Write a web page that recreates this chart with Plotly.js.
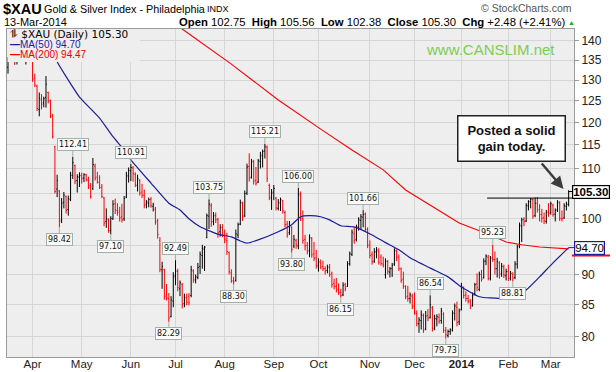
<!DOCTYPE html>
<html><head><meta charset="utf-8">
<script src="https://cdn.plot.ly/plotly-3.0.1.min.js"></script>
<style>html,body{margin:0;padding:0;background:#fff;}#chart{width:616px;height:372px;}</style>
</head><body><div id="chart"></div>
<script>
const holidays = ['2013-03-29','2013-05-27','2013-07-04','2013-09-02','2013-11-28','2013-12-25','2014-01-01','2014-01-20','2014-02-17'];
function tradingDays(a, b) {
  const out = []; let d = new Date(a + 'T00:00:00Z'); const e = new Date(b + 'T00:00:00Z');
  while (d <= e) { const wd = d.getUTCDay(); const s = d.toISOString().slice(0, 10);
    if (wd !== 0 && wd !== 6 && holidays.indexOf(s) < 0) out.push(s);
    d = new Date(d.getTime() + 86400000); }
  return out;
}
const dates = tradingDays('2013-03-14', '2014-03-13');

const open = [
133.2,135.1,136.2,137.3,135.6,136.5,135.5,136.8,135.6,137.0,136.0,
135.0,130.5,128.5,123.0,125.2,124.5,125.8,127.0,125.0,121.4,114.6,105.8,105.4,99.8,103.2,104.3,101.8,103.7,108.5,110.6,107.5,108.2,
108.6,108.0,108.7,107.6,106.5,105.9,110.5,108.2,107.1,106.2,104.0,99.5,99.8,97.8,100.0,102.9,101.6,101.5,100.4,100.0,104.2,108.4,
109.5,110.1,108.8,106.5,107.5,105.2,104.5,102.8,103.0,103.8,102.4,101.8,99.6,96.0,90.8,90.8,86.6,86.0,83.1,85.6,
89.8,90.5,87.6,88.3,85.2,86.1,86.4,86.5,90.6,89.2,89.5,91.4,93.3,94.4,96.5,100.5,102.5,99.5,100.6,99.9,97.6,98.4,
97.0,96.0,93.8,90.3,88.9,89.0,97.0,99.0,103.0,100.6,105.0,110.4,108.2,111.3,107.6,107.2,111.5,112.6,113.7,114.5,106.5,104.0,
105.2,104.0,102.0,103.0,103.5,101.2,99.0,97.4,98.4,95.0,96.0,95.0,104.6,100.0,96.2,95.1,94.2,96.3,93.6,92.9,
91.5,92.0,91.4,91.0,90.7,91.2,90.2,88.5,88.0,87.5,87.0,86.6,88.3,88.0,91.9,93.5,97.2,96.2,98.4,99.7,100.3,100.9,98.0,
95.2,93.5,92.3,93.9,94.0,93.0,91.8,90.0,92.2,90.4,91.0,91.8,94.0,93.0,91.0,89.2,88.0,86.4,86.0,86.4,
84.7,83.6,82.0,82.5,83.3,81.2,83.3,83.0,84.5,81.3,82.7,83.0,82.5,83.5,81.0,80.2,80.8,81.0,83.6,84.6,82.3,
84.2,87.8,86.6,86.0,85.6,84.9,86.8,88.4,87.5,90.0,89.5,92.3,93.0,89.4,93.0,92.6,91.0,92.0,90.2,91.3,89.8,
90.5,89.4,90.0,89.5,91.8,95.0,98.6,99.9,99.6,102.5,103.3,103.7,100.6,103.0,101.7,100.8,100.2,99.5,101.3,
101.2,102.6,100.9,101.7,103.0,100.0,100.2,102.4,102.75];
const high = [
135.8,137.6,138.4,138.9,137.9,138.1,137.2,138.5,137.8,138.8,137.4,
135.4,131.6,128.9,127.0,126.6,126.0,131.0,127.2,125.3,122.0,114.8,108.7,105.6,104.0,105.2,104.5,104.5,109.3,112.41,110.8,108.8,109.2,
109.1,109.0,108.9,108.3,107.0,112.2,111.0,109.3,108.6,106.8,104.2,102.0,100.1,100.5,103.6,103.9,103.0,102.3,102.9,104.4,109.3,110.2,
110.91,110.5,109.2,108.7,107.8,106.8,105.7,103.6,104.1,104.2,103.1,102.3,100.0,96.6,92.2,91.0,88.4,86.9,86.4,90.4,
92.49,91.0,89.0,88.6,86.8,86.8,86.9,91.5,90.9,90.0,92.0,94.0,95.2,95.0,101.0,103.75,103.0,101.3,101.2,100.2,99.0,99.0,
98.0,97.4,94.0,90.9,89.6,98.0,99.3,103.7,103.3,105.5,111.0,113.2,112.0,111.8,110.3,112.0,113.5,114.0,115.21,114.9,106.9,105.8,
106.6,104.2,103.8,104.1,103.6,101.6,99.6,99.6,98.6,97.0,96.3,106.00,105.3,101.6,97.0,95.7,97.1,96.6,95.7,94.3,
92.8,92.6,92.4,91.4,91.7,91.8,90.5,89.3,89.4,88.5,87.6,88.7,88.6,92.3,94.0,98.0,98.4,98.9,100.3,100.9,101.66,101.2,98.4,
96.0,94.0,94.6,94.8,94.6,93.5,93.1,92.8,92.5,91.3,92.0,94.6,94.4,93.5,91.2,90.5,88.2,88.1,87.0,86.8,
87.0,84.1,83.0,84.1,83.6,84.0,84.3,86.54,84.8,83.4,83.5,83.6,84.5,83.8,81.5,81.1,81.3,84.1,85.2,85.5,84.4,
88.6,88.0,87.2,86.6,85.9,87.0,88.6,90.2,90.5,90.8,92.8,93.5,93.4,93.2,95.23,94.0,92.9,92.3,92.0,91.7,91.0,
91.7,90.6,90.4,92.3,95.2,99.3,100.2,100.3,103.0,103.6,104.0,103.9,104.1,104.2,102.8,101.9,101.2,101.7,103.0,
103.3,102.9,102.0,103.6,103.4,101.6,103.0,103.3,105.56];
const low = [
131.6,134.6,134.7,133.8,133.9,134.8,134.7,135.0,133.9,134.6,134.6,
129.6,128.3,122.6,121.4,123.0,123.5,123.4,124.4,121.0,116.4,104.9,104.2,98.42,99.2,102.0,101.0,100.6,103.4,107.8,106.8,105.1,106.2,
106.9,107.2,107.3,105.8,103.9,105.6,107.5,106.9,105.8,104.0,98.6,98.3,97.4,97.10,99.8,100.9,100.6,99.5,99.3,99.6,104.0,107.1,
107.4,107.3,106.2,105.3,104.5,104.0,102.0,102.0,102.2,102.1,101.4,98.9,96.3,90.4,87.6,85.8,85.7,82.29,83.0,84.6,
88.2,87.2,86.4,84.4,84.6,84.9,84.9,86.2,88.6,88.5,89.2,90.1,91.0,90.6,96.4,98.1,98.5,98.8,99.2,96.5,96.7,96.6,
95.5,93.4,90.0,88.6,88.30,88.8,96.4,98.8,99.6,100.3,104.6,107.3,107.9,106.7,106.5,107.0,110.0,110.2,112.1,107.2,103.6,101.7,
103.6,101.6,101.6,101.5,101.0,98.4,96.5,97.0,93.80,94.6,94.5,94.4,99.6,95.4,94.2,93.5,93.0,92.9,92.3,91.0,
90.5,90.9,90.6,90.0,90.2,89.6,87.8,87.5,87.0,86.6,86.15,86.4,87.2,87.9,91.5,93.2,95.4,95.8,97.8,98.0,98.4,97.6,94.6,
92.8,91.7,92.0,92.8,91.7,91.5,91.2,89.3,90.0,89.5,89.6,91.5,92.3,90.6,88.6,87.6,85.9,85.5,85.2,84.3,
83.4,81.6,80.6,81.1,80.6,81.0,82.4,82.8,80.8,81.0,81.6,82.0,82.0,80.6,79.73,79.9,80.3,80.8,82.5,81.6,81.8,
84.1,86.0,85.5,85.2,84.3,84.7,86.5,87.2,87.2,88.8,89.3,91.6,89.0,89.0,92.2,90.0,89.5,89.3,89.6,89.4,89.0,
88.9,89.0,88.81,89.2,91.0,94.6,95.7,98.6,99.4,101.6,102.0,100.0,100.3,101.2,99.5,99.3,99.0,99.1,100.4,
100.8,100.4,99.5,101.3,99.6,99.5,100.0,101.6,102.38];
const close = [
135.1,136.9,137.5,135.3,136.8,135.4,136.6,135.7,137.2,136.1,135.2,
130.2,128.8,123.2,125.6,124.2,125.5,129.0,125.0,121.6,116.9,105.3,107.5,99.5,103.0,104.6,101.6,103.9,108.6,111.2,107.4,108.3,108.5,
108.0,108.7,107.7,106.2,104.3,110.8,108.0,107.2,106.1,104.3,99.2,100.0,97.8,100.1,102.8,101.7,101.2,100.2,99.8,103.9,108.6,109.6,
110.2,109.0,106.7,107.9,105.0,104.6,102.6,103.2,103.7,102.5,102.7,99.4,97.1,90.9,91.4,86.3,86.1,82.9,85.8,89.6,
90.6,87.8,88.6,85.0,86.2,85.4,85.3,90.8,89.0,89.6,91.2,93.5,94.6,94.8,100.6,102.8,99.4,100.6,99.8,97.4,98.3,97.1,
96.2,94.0,90.5,89.0,88.8,97.2,98.9,103.1,100.4,104.9,110.3,108.0,111.5,107.4,107.0,111.6,112.8,113.6,114.6,107.9,104.2,105.0,
105.9,102.1,103.2,103.7,101.5,98.9,97.0,98.7,94.4,96.2,95.2,104.8,100.2,96.0,95.0,94.0,96.5,93.4,92.8,91.5,
92.2,91.3,91.0,90.6,91.3,90.0,88.3,88.0,87.4,87.0,86.5,88.2,87.7,91.8,93.6,97.5,96.0,98.5,99.8,100.4,100.8,98.1,95.1,
93.3,92.2,94.0,94.3,92.1,91.9,91.6,92.3,90.5,91.0,91.6,94.2,93.0,91.0,89.0,88.0,86.3,86.0,86.6,84.8,
83.8,82.0,82.6,83.4,81.0,83.2,82.9,85.0,81.2,82.8,83.1,82.4,84.0,81.0,80.3,80.8,81.1,83.7,84.8,82.2,84.0,
88.0,86.5,86.0,85.6,84.8,86.6,88.3,87.8,90.0,89.2,92.3,93.2,89.3,92.8,92.6,91.0,92.3,90.0,91.4,89.9,90.5,
89.3,90.2,89.4,91.8,94.8,98.8,99.8,99.5,102.6,103.3,103.8,100.5,103.0,101.8,100.8,100.1,99.6,101.2,101.0,
102.9,100.8,101.6,103.2,100.1,100.0,102.5,102.82,105.30];

const ma50Dates = ['2013-04-10','2013-04-16','2013-04-23','2013-04-30','2013-05-13','2013-05-21','2013-05-29','2013-06-03','2013-06-14','2013-06-26','2013-07-03','2013-07-10','2013-07-17','2013-07-24','2013-07-30','2013-08-06','2013-08-12','2013-08-15','2013-08-22','2013-09-05','2013-09-13','2013-09-19','2013-09-25','2013-10-02','2013-10-08','2013-10-15','2013-10-23','2013-11-04','2013-11-12','2013-11-20','2013-11-27','2013-12-11','2013-12-23','2014-01-02','2014-01-14','2014-01-22','2014-02-05','2014-02-13','2014-02-24','2014-03-04','2014-03-13'];
const ma50Vals = [140.0,134.6,130.0,125.9,121.0,116.8,113.9,111.8,107.0,103.0,101.7,100.0,98.5,97.6,97.0,96.65,95.9,95.5,96.1,97.6,98.9,100.4,100.6,100.4,99.8,98.7,98.5,97.0,95.6,94.3,92.9,91.1,89.6,87.9,86.3,86.1,86.1,87.4,89.6,92.0,94.70];
const ma200Dates = ['2013-06-27','2013-07-05','2013-08-06','2013-09-05','2013-10-02','2013-10-22','2013-11-11','2013-11-25','2013-12-18','2013-12-31','2014-01-22','2014-01-31','2014-02-11','2014-02-24','2014-03-13'];
const ma200Vals = [147.0,143.2,134.0,125.2,118.5,113.9,109.7,105.6,101.3,99.2,97.0,95.7,95.2,94.8,94.47];

const labelDates = ['2013-04-25','2013-04-17','2013-05-20','2013-06-03','2013-06-26','2013-07-01','2013-07-23','2013-08-07','2013-08-27','2013-09-13','2013-09-18','2013-10-15','2013-10-29','2013-12-11','2013-12-20','2014-01-23','2014-02-05'];
const labelVals  = [112.41,98.42,97.10,110.91,82.29,92.49,103.75,88.30,115.21,93.80,106.00,86.15,101.66,86.54,79.73,95.23,88.81];
const labelSide  = ['h','l','l','h','l','h','h','l','h','l','h','l','h','h','l','h','l'];
const yTicks = [80,85,90,95,100,105,110,115,120,125,130,135,140];
const yTicksHidden = [95,105];
const monthNames = ['Jan','Feb','Mar','Apr','May','Jun','Jul','Aug','Sep','Oct','Nov','Dec'];
const resistance = 104.0;

const yLo = Math.log10(77.0), yHi = Math.log10(143.2);
const xRange = [-0.45, 253.4];
const fx = px => (px - 7) / 567, fy = py => (357 - py) / 328;
const yp = v => (Math.log10(v) - yLo) / (yHi - yLo);

const up = {x:[],o:[],h:[],l:[],c:[]}, dn = {x:[],o:[],h:[],l:[],c:[]};
for (let i = 0; i < dates.length; i++) {
  const prev = i > 0 ? close[i-1] : open[i];
  const t = close[i] >= prev ? up : dn;
  t.x.push(dates[i]); t.o.push(open[i]); t.h.push(high[i]); t.l.push(low[i]); t.c.push(close[i]);
}
function ohlc(t, col) {
  return {type:'ohlc', x:t.x, open:t.o, high:t.h, low:t.l, close:t.c, tickwidth:0.4,
    increasing:{line:{color:col,width:1}}, decreasing:{line:{color:col,width:1}},
    hoverinfo:'skip', showlegend:false};
}
const traces = [
  {type:'scatter', mode:'lines', x:ma200Dates, y:ma200Vals, line:{color:'#ff0000', width:1.1}, hoverinfo:'skip', showlegend:false},
  {type:'scatter', mode:'lines', x:ma50Dates, y:ma50Vals, line:{color:'#1c1c9c', width:1.2, shape:'spline', smoothing:0.5}, hoverinfo:'skip', showlegend:false},
  ohlc(up, '#000000'), ohlc(dn, '#ff0000')
];

const tickVals = [], tickText = [];
dates.forEach((d, i) => { if (i > 0 && d.slice(5,7) !== dates[i-1].slice(5,7)) {
  const m = +d.slice(5,7); tickVals.push(d); tickText.push(m === 1 ? '<b>' + d.slice(0,4) + '</b>' : monthNames[m-1]); } });

const F = 'Liberation Sans, Arial, sans-serif', FD = 'DejaVu Sans, Verdana, sans-serif';
function txt(text, px, py, size, opt) {
  opt = opt || {};
  return {xref:'paper', yref:'paper', x:fx(px), y:fy(py), text:text, showarrow:false, borderpad:0,
    xanchor:opt.xa || 'left', yanchor:'middle', font:{family:opt.f || F, size:size, color:opt.c || '#000'}};
}
const n = dates.length - 1;
const chg = close[n] - close[n-1], pct = chg / close[n-1] * 100;
const ann = [
  txt('<b>$XAU</b>', 2, 9, 14.5),
  txt('Gold & Silver Index - Philadelphia', 43, 9, 10.8),
  txt('INDX', 206, 9.5, 9),
  txt('13-Mar-2014', 3, 22, 11),
  txt('<b>Open</b> ' + open[n].toFixed(2) + '&nbsp; <b>High</b> ' + high[n].toFixed(2) + '&nbsp; <b>Low</b> ' + low[n].toFixed(2) +
      '&nbsp; <b>Close</b> ' + close[n].toFixed(2) + '&nbsp; <b>Chg</b> +' + chg.toFixed(2) + ' (+' + pct.toFixed(2) + '%)', 566, 22, 11.3, {xa:'right'}),
  txt('▲', 567, 22, 7, {c:'#22aa22'}),
  txt('© StockCharts.com', 573, 7.5, 10.5, {xa:'right', c:'#555'}),
  txt('www.CANSLIM.net', 490, 49, 15, {xa:'center', c:'#80cc50'}),
  txt('⥮ $XAU (Daily) ' + close[n].toFixed(2), 9, 34, 10.5, {f:FD}),
  txt('<b>—</b>MA(50) ' + ma50Vals[ma50Vals.length-1].toFixed(2), 9, 44.5, 10, {c:'#1c1c9c'}),
  txt('<b>—</b>MA(200) ' + ma200Vals[ma200Vals.length-1].toFixed(2), 9, 55, 10, {c:'#ee0000'})
];
labelDates.forEach((d, k) => {
  ann.push({xref:'x', yref:'y', x:dates.indexOf(d), y:Math.log10(labelVals[k]), text:labelVals[k].toFixed(2),
    showarrow:true, arrowhead:0, arrowwidth:1, arrowcolor:'#a3b0a8', ax:0, ay: labelSide[k] === 'h' ? -12 : 12,
    font:{family:FD, size:8, color:'#111'}, bgcolor:'#fafafa', bordercolor:'#a3b0a8', borderwidth:1, borderpad:1});
});
// right side value tags
ann.push({xref:'x', yref:'y', x:n, y:Math.log10(ma50Vals[ma50Vals.length-1]), text:ma50Vals[ma50Vals.length-1].toFixed(2), showarrow:true, arrowhead:0, arrowwidth:1, arrowcolor:'#1c1c9c', ax:21, ay:0,
  font:{family:F, size:11.5, color:'#000'}, bgcolor:'#ffffff', bordercolor:'#1c1c9c', borderwidth:1.2, borderpad:0});
ann.push({xref:'x', yref:'y', x:n, y:Math.log10(close[n]), text:'<b>' + close[n].toFixed(2) + '</b>', showarrow:true, arrowhead:0, arrowwidth:1, arrowcolor:'#000', ax:22, ay:0,
  font:{family:F, size:11.5, color:'#000'}, bgcolor:'#ffffff', bordercolor:'#000', borderwidth:1.2, borderpad:0});
// comment box and arrow
ann.push({xref:'paper', yref:'paper', x:fx(511), y:fy(138.5), xanchor:'center', yanchor:'middle', showarrow:false,
  text:'<b>Posted a solid<br>gain today.</b>', font:{family:F, size:13, color:'#111'}, align:'center',
  bgcolor:'#ffffff', bordercolor:'#222', borderwidth:1.5, borderpad:6, width:94, height:32});
ann.push({xref:'x', yref:'y', x:dates.indexOf('2014-03-11') - 0.3, y:Math.log10(105.8), text:'', showarrow:true,
  arrowhead:2, arrowsize:1, arrowwidth:2.5, arrowcolor:'#3c3c3c', ax:-23, ay:-27});

const tagLine = yp(ma200Vals[ma200Vals.length-1]) - 6.5 / 328; // MA(200) tag peeking out under the MA(50) tag
const shapes = [
  {type:'rect', xref:'paper', yref:'paper', x0:fx(7.6), x1:fx(140), y0:fy(62), y1:fy(29.6), fillcolor:'#eeeeee', line:{width:0}, layer:'above'},
  {type:'line', xref:'x', yref:'paper', x0:dates.indexOf('2014-01-17') + 0.5, x1:xRange[1], y0:yp(resistance), y1:yp(resistance), line:{color:'#000', width:1}},
  {type:'line', xref:'paper', yref:'paper', x0:fx(572), x1:fx(610), y0:tagLine, y1:tagLine, line:{color:'#ff0000', width:2}, layer:'above'}
];

const layout = {
  width:616, height:372, margin:{l:7, r:42, t:29, b:15},
  paper_bgcolor:'#ffffff', plot_bgcolor:'#eeeeee', hovermode:false, showlegend:false,
  xaxis:{type:'category', categoryorder:'array', categoryarray:dates, range:xRange,
    tickvals:tickVals, ticktext:tickText, tickangle:0, gridcolor:'#d6d6d6', gridwidth:1,
    showline:true, linecolor:'#9a9a9a', mirror:true, ticks:'', ticklabelstandoff:-4,
    tickfont:{family:F, size:11.5, color:'#222'}, rangeslider:{visible:false}, fixedrange:true, zeroline:false},
  yaxis:{type:'log', range:[yLo, yHi], side:'right', tickvals:yTicks,
    ticktext:yTicks.map(v => yTicksHidden.indexOf(v) >= 0 ? '' : String(v)),
    gridcolor:'#d6d6d6', gridwidth:1, showline:true, linecolor:'#9a9a9a', mirror:true,
    ticks:'outside', ticklen:4, tickcolor:'#9a9a9a', tickfont:{family:F, size:12, color:'#222'}, fixedrange:true, zeroline:false},
  annotations:ann, shapes:shapes
};
Plotly.newPlot('chart', traces, layout, {displayModeBar:false, staticPlot:true});
</script>
</body></html>
